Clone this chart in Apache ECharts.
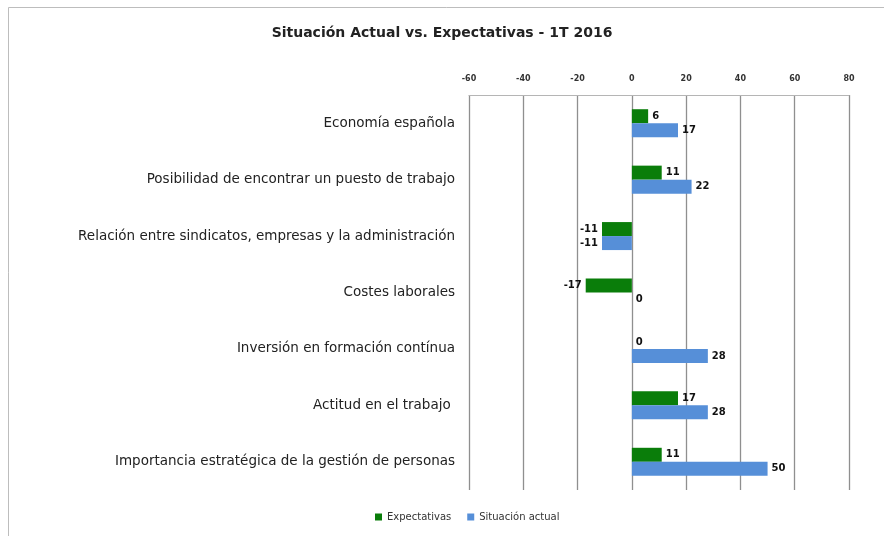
<!DOCTYPE html>
<html lang="es">
<head>
    <meta charset="UTF-8">
    <title>Situación Actual vs. Expectativas</title>
    <script src="https://cdn.jsdelivr.net/npm/echarts@6/dist/echarts.min.js"></script>
    <style>
        html, body { margin: 0; padding: 0; background: #fff; }
        #main { width: 884px; height: 536px; }
    </style>
</head>
<body>
<div id="main"></div>
<script>
    var categorias = [
        'Economía española',
        'Posibilidad de encontrar un puesto de trabajo',
        'Relación entre sindicatos, empresas y la administración',
        'Costes laborales',
        'Inversión en formación contínua',
        'Actitud en el trabajo ',
        'Importancia estratégica de la gestión de personas'
    ];
    var expectativas = [6, 11, -11, -17, 0, 17, 11];
    var situacionActual = [17, 22, -11, 0, 28, 28, 50];
    var ticks = [-60, -40, -20, 0, 20, 40, 60, 80];

    var fuente = '"DejaVu Sans", "Liberation Sans", sans-serif';

    // etiqueta a la izquierda para los negativos
    function conEtiqueta(valores) {
        return valores.map(function (v) {
            return {
                value: v,
                label: { position: v < 0 ? 'left' : 'right' }
            };
        });
    }

    var myChart = echarts.init(document.getElementById('main'));

    var option = {
        backgroundColor: '#fff',
        animation: false,
        textStyle: { fontFamily: fuente },
        title: {
            text: 'Situación Actual vs. Expectativas - 1T 2016',
            left: 'center',
            top: 21,
            textStyle: { fontSize: 14, fontWeight: 'bold', color: '#222', fontFamily: fuente }
        },
        graphic: [{
            type: 'rect',
            shape: { x: 8.5, y: 7.5, width: 890, height: 540 },
            style: { fill: 'none', stroke: '#bdbdbd', lineWidth: 1 },
            silent: true
        }],
        legend: {
            data: ['Expectativas', 'Situación actual'],
            bottom: 9,
            left: 370,
            itemWidth: 7,
            itemHeight: 7,
            itemGap: 16,
            icon: 'rect',
            textStyle: { fontSize: 10, color: '#333', fontFamily: fuente }
        },
        grid: {
            left: 469,
            right: 35,
            top: 95,
            bottom: 46
        },
        xAxis: {
            type: 'value',
            position: 'top',
            min: ticks[0],
            max: ticks[ticks.length - 1],
            interval: 20,
            axisLine: { show: true, lineStyle: { color: '#b5b5b5' } },
            axisTick: { show: false },
            axisLabel: { fontSize: 8, color: '#333', margin: 12, fontWeight: 'bold' },
            splitLine: { show: true, lineStyle: { color: '#8f8f8f', width: 1.3 } }
        },
        yAxis: {
            type: 'category',
            inverse: true,
            data: categorias,
            axisLine: { show: false },
            axisTick: { show: false },
            axisLabel: { fontSize: 13.5, color: '#222', margin: 14, fontFamily: fuente }
        },
        series: [
            {
                name: 'Expectativas',
                type: 'bar',
                data: conEtiqueta(expectativas),
                barWidth: 14,
                barGap: '0%',
                itemStyle: { color: '#0a7d0a' },
                label: { show: true, fontSize: 10, fontWeight: 'bold', color: '#111', distance: 4 }
            },
            {
                name: 'Situación actual',
                type: 'bar',
                data: conEtiqueta(situacionActual),
                barWidth: 14,
                barGap: '0%',
                itemStyle: { color: '#568fd8' },
                label: { show: true, fontSize: 10, fontWeight: 'bold', color: '#111', distance: 4 }
            }
        ]
    };
    myChart.setOption(option);
</script>
</body>
</html>
